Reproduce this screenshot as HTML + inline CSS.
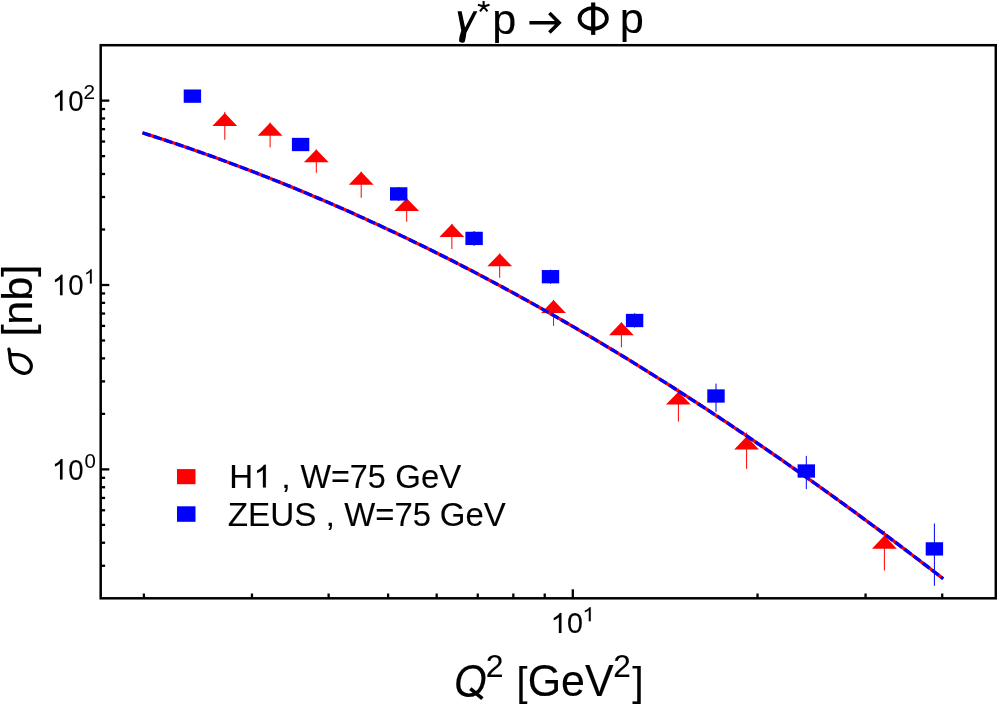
<!DOCTYPE html>
<html><head><meta charset="utf-8"><title>chart</title>
<style>html,body{margin:0;padding:0;background:#fff}body{width:997px;height:706px;overflow:hidden;font-family:"Liberation Sans",sans-serif}</style></head>
<body>
<svg width="997" height="706" viewBox="0 0 997 706" style="display:block;will-change:transform">
<rect width="997" height="706" fill="#fff"/>
<g stroke="#f00" stroke-width="1.0" fill="#f00">
<line x1="224.8" y1="111.9" x2="224.8" y2="139.8"/>
<path stroke="none" d="M224.8,113.1 L237.20,126.1 L212.40,126.1Z"/>
<line x1="270.1" y1="122.7" x2="270.1" y2="147.4"/>
<path stroke="none" d="M270.1,122.7 L282.50,135.7 L257.70,135.7Z"/>
<line x1="316.3" y1="149.4" x2="316.3" y2="172.75"/>
<path stroke="none" d="M316.3,149.4 L328.70,162.2 L303.90,162.2Z"/>
<line x1="361.2" y1="171.7" x2="361.2" y2="197.8"/>
<path stroke="none" d="M361.2,171.7 L373.60,184.8 L348.80,184.8Z"/>
<line x1="406.7" y1="198.3" x2="406.7" y2="221.8"/>
<path stroke="none" d="M406.7,198.3 L419.10,211.1 L394.30,211.1Z"/>
<line x1="451.85" y1="223.9" x2="451.85" y2="249.0"/>
<path stroke="none" d="M451.85,223.9 L464.25,236.9 L439.45,236.9Z"/>
<line x1="499.7" y1="253.5" x2="499.7" y2="277.8"/>
<path stroke="none" d="M499.7,253.5 L512.10,266.3 L487.30,266.3Z"/>
<line x1="553.55" y1="299.9" x2="553.55" y2="325.9"/>
<path stroke="none" d="M553.55,299.9 L565.95,312.9 L541.15,312.9Z"/>
<line x1="621.4" y1="322.3" x2="621.4" y2="347.4"/>
<path stroke="none" d="M621.4,322.3 L633.80,335.3 L609.00,335.3Z"/>
<line x1="678.4" y1="388.5" x2="678.4" y2="421.7"/>
<path stroke="none" d="M678.4,391.8 L690.80,404.6 L666.00,404.6Z"/>
<line x1="746.6" y1="432.6" x2="746.6" y2="468.9"/>
<path stroke="none" d="M746.6,436.6 L759.00,449.6 L734.20,449.6Z"/>
<line x1="884.4" y1="530.9" x2="884.4" y2="570.5"/>
<path stroke="none" d="M884.4,535.6 L896.80,548.65 L872.00,548.65Z"/>
</g>
<path d="M142.50,132.80 L146.50,134.08 L150.51,135.37 L154.51,136.67 L158.51,137.98 L162.52,139.30 L166.52,140.63 L170.52,141.97 L174.53,143.31 L178.53,144.67 L182.53,146.04 L186.54,147.41 L190.54,148.80 L194.55,150.20 L198.55,151.60 L202.55,153.02 L206.56,154.44 L210.56,155.88 L214.56,157.32 L218.57,158.78 L222.57,160.24 L226.57,161.72 L230.58,163.20 L234.58,164.70 L238.58,166.20 L242.59,167.72 L246.59,169.24 L250.59,170.77 L254.60,172.32 L258.60,173.87 L262.61,175.43 L266.61,177.01 L270.61,178.59 L274.62,180.18 L278.62,181.79 L282.62,183.40 L286.63,185.02 L290.63,186.65 L294.63,188.30 L298.64,189.95 L302.64,191.61 L306.64,193.28 L310.65,194.96 L314.65,196.66 L318.65,198.36 L322.66,200.07 L326.66,201.79 L330.66,203.52 L334.67,205.26 L338.67,207.01 L342.67,208.77 L346.68,210.54 L350.68,212.33 L354.69,214.12 L358.69,215.92 L362.69,217.73 L366.70,219.55 L370.70,221.38 L374.70,223.22 L378.71,225.07 L382.71,226.93 L386.71,228.80 L390.72,230.68 L394.72,232.57 L398.72,234.46 L402.73,236.37 L406.73,238.29 L410.73,240.22 L414.74,242.16 L418.74,244.11 L422.75,246.07 L426.75,248.03 L430.75,250.01 L434.76,252.00 L438.76,254.00 L442.76,256.00 L446.77,258.02 L450.77,260.05 L454.77,262.08 L458.78,264.13 L462.78,266.18 L466.78,268.25 L470.79,270.32 L474.79,272.41 L478.79,274.50 L482.80,276.61 L486.80,278.72 L490.80,280.85 L494.81,282.98 L498.81,285.12 L502.81,287.27 L506.82,289.44 L510.82,291.61 L514.83,293.79 L518.83,295.98 L522.83,298.18 L526.84,300.39 L530.84,302.61 L534.84,304.84 L538.85,307.08 L542.85,309.33 L546.85,311.59 L550.86,313.85 L554.86,316.13 L558.86,318.42 L562.87,320.71 L566.87,323.02 L570.87,325.33 L574.88,327.65 L578.88,329.99 L582.88,332.33 L586.89,334.68 L590.89,337.04 L594.90,339.41 L598.90,341.79 L602.90,344.18 L606.91,346.58 L610.91,348.99 L614.91,351.40 L618.92,353.83 L622.92,356.26 L626.92,358.71 L630.93,361.16 L634.93,363.63 L638.93,366.10 L642.94,368.58 L646.94,371.07 L650.94,373.57 L654.95,376.07 L658.95,378.59 L662.95,381.12 L666.96,383.65 L670.96,386.19 L674.97,388.75 L678.97,391.31 L682.97,393.88 L686.98,396.46 L690.98,399.05 L694.98,401.64 L698.99,404.25 L702.99,406.86 L706.99,409.49 L711.00,412.12 L715.00,414.76 L719.00,417.41 L723.01,420.07 L727.01,422.73 L731.01,425.41 L735.02,428.09 L739.02,430.78 L743.02,433.48 L747.03,436.19 L751.03,438.91 L755.04,441.64 L759.04,444.37 L763.04,447.11 L767.05,449.86 L771.05,452.62 L775.05,455.39 L779.06,458.17 L783.06,460.95 L787.06,463.74 L791.07,466.54 L795.07,469.35 L799.07,472.17 L803.08,474.99 L807.08,477.83 L811.08,480.67 L815.09,483.52 L819.09,486.37 L823.10,489.24 L827.10,492.11 L831.10,494.99 L835.11,497.88 L839.11,500.77 L843.11,503.68 L847.12,506.59 L851.12,509.51 L855.12,512.44 L859.13,515.37 L863.13,518.31 L867.13,521.26 L871.14,524.22 L875.14,527.18 L879.14,530.16 L883.15,533.14 L887.15,536.12 L891.15,539.12 L895.16,542.12 L899.16,545.13 L903.16,548.14 L907.17,551.17 L911.17,554.20 L915.18,557.24 L919.18,560.28 L923.18,563.33 L927.19,566.39 L931.19,569.46 L935.19,572.53 L939.20,575.61 L943.20,578.70" fill="none" stroke="#f00" stroke-width="3.3"/>
<g stroke="#00f" stroke-width="1.0" fill="#00f">
<rect stroke="none" x="183.70" y="89.50" width="17.4" height="13.3"/>
<rect stroke="none" x="291.90" y="137.85" width="17.4" height="13.3"/>
<line x1="398.7" y1="187.0" x2="398.7" y2="200.9"/>
<rect stroke="none" x="390.00" y="187.25" width="17.4" height="13.3"/>
<line x1="474.1" y1="231.0" x2="474.1" y2="245.8"/>
<rect stroke="none" x="465.40" y="231.75" width="17.4" height="13.3"/>
<line x1="550.5" y1="269.7" x2="550.5" y2="283.8"/>
<rect stroke="none" x="541.80" y="270.05" width="17.4" height="13.3"/>
<line x1="634.6" y1="313.3" x2="634.6" y2="327.6"/>
<rect stroke="none" x="625.90" y="313.85" width="17.4" height="13.3"/>
<line x1="716.0" y1="383.6" x2="716.0" y2="411.8"/>
<rect stroke="none" x="707.30" y="389.35" width="17.4" height="13.3"/>
<line x1="806.3" y1="455.9" x2="806.3" y2="489.1"/>
<rect stroke="none" x="797.60" y="464.35" width="17.4" height="13.3"/>
<line x1="934.4" y1="523.5" x2="934.4" y2="585.8"/>
<rect stroke="none" x="925.70" y="542.25" width="17.4" height="13.3"/>
</g>
<path d="M142.50,132.80 L146.50,134.08 L150.51,135.37 L154.51,136.67 L158.51,137.98 L162.52,139.30 L166.52,140.63 L170.52,141.97 L174.53,143.31 L178.53,144.67 L182.53,146.04 L186.54,147.41 L190.54,148.80 L194.55,150.20 L198.55,151.60 L202.55,153.02 L206.56,154.44 L210.56,155.88 L214.56,157.32 L218.57,158.78 L222.57,160.24 L226.57,161.72 L230.58,163.20 L234.58,164.70 L238.58,166.20 L242.59,167.72 L246.59,169.24 L250.59,170.77 L254.60,172.32 L258.60,173.87 L262.61,175.43 L266.61,177.01 L270.61,178.59 L274.62,180.18 L278.62,181.79 L282.62,183.40 L286.63,185.02 L290.63,186.65 L294.63,188.30 L298.64,189.95 L302.64,191.61 L306.64,193.28 L310.65,194.96 L314.65,196.66 L318.65,198.36 L322.66,200.07 L326.66,201.79 L330.66,203.52 L334.67,205.26 L338.67,207.01 L342.67,208.77 L346.68,210.54 L350.68,212.33 L354.69,214.12 L358.69,215.92 L362.69,217.73 L366.70,219.55 L370.70,221.38 L374.70,223.22 L378.71,225.07 L382.71,226.93 L386.71,228.80 L390.72,230.68 L394.72,232.57 L398.72,234.46 L402.73,236.37 L406.73,238.29 L410.73,240.22 L414.74,242.16 L418.74,244.11 L422.75,246.07 L426.75,248.03 L430.75,250.01 L434.76,252.00 L438.76,254.00 L442.76,256.00 L446.77,258.02 L450.77,260.05 L454.77,262.08 L458.78,264.13 L462.78,266.18 L466.78,268.25 L470.79,270.32 L474.79,272.41 L478.79,274.50 L482.80,276.61 L486.80,278.72 L490.80,280.85 L494.81,282.98 L498.81,285.12 L502.81,287.27 L506.82,289.44 L510.82,291.61 L514.83,293.79 L518.83,295.98 L522.83,298.18 L526.84,300.39 L530.84,302.61 L534.84,304.84 L538.85,307.08 L542.85,309.33 L546.85,311.59 L550.86,313.85 L554.86,316.13 L558.86,318.42 L562.87,320.71 L566.87,323.02 L570.87,325.33 L574.88,327.65 L578.88,329.99 L582.88,332.33 L586.89,334.68 L590.89,337.04 L594.90,339.41 L598.90,341.79 L602.90,344.18 L606.91,346.58 L610.91,348.99 L614.91,351.40 L618.92,353.83 L622.92,356.26 L626.92,358.71 L630.93,361.16 L634.93,363.63 L638.93,366.10 L642.94,368.58 L646.94,371.07 L650.94,373.57 L654.95,376.07 L658.95,378.59 L662.95,381.12 L666.96,383.65 L670.96,386.19 L674.97,388.75 L678.97,391.31 L682.97,393.88 L686.98,396.46 L690.98,399.05 L694.98,401.64 L698.99,404.25 L702.99,406.86 L706.99,409.49 L711.00,412.12 L715.00,414.76 L719.00,417.41 L723.01,420.07 L727.01,422.73 L731.01,425.41 L735.02,428.09 L739.02,430.78 L743.02,433.48 L747.03,436.19 L751.03,438.91 L755.04,441.64 L759.04,444.37 L763.04,447.11 L767.05,449.86 L771.05,452.62 L775.05,455.39 L779.06,458.17 L783.06,460.95 L787.06,463.74 L791.07,466.54 L795.07,469.35 L799.07,472.17 L803.08,474.99 L807.08,477.83 L811.08,480.67 L815.09,483.52 L819.09,486.37 L823.10,489.24 L827.10,492.11 L831.10,494.99 L835.11,497.88 L839.11,500.77 L843.11,503.68 L847.12,506.59 L851.12,509.51 L855.12,512.44 L859.13,515.37 L863.13,518.31 L867.13,521.26 L871.14,524.22 L875.14,527.18 L879.14,530.16 L883.15,533.14 L887.15,536.12 L891.15,539.12 L895.16,542.12 L899.16,545.13 L903.16,548.14 L907.17,551.17 L911.17,554.20 L915.18,557.24 L919.18,560.28 L923.18,563.33 L927.19,566.39 L931.19,569.46 L935.19,572.53 L939.20,575.61 L943.20,578.70" fill="none" stroke="#00f" stroke-width="3.3" stroke-dasharray="8.56 2.92"/>
<rect x="100.7" y="45.2" width="895.0999999999999" height="553.0999999999999" fill="none" stroke="#000" stroke-width="2.5"/>
<g stroke="#000" stroke-width="2.3">
<line x1="100.7" y1="565.77" x2="105.10000000000001" y2="565.77"/>
<line x1="100.7" y1="542.74" x2="105.10000000000001" y2="542.74"/>
<line x1="100.7" y1="524.87" x2="105.10000000000001" y2="524.87"/>
<line x1="100.7" y1="510.27" x2="105.10000000000001" y2="510.27"/>
<line x1="100.7" y1="497.93" x2="105.10000000000001" y2="497.93"/>
<line x1="100.7" y1="487.24" x2="105.10000000000001" y2="487.24"/>
<line x1="100.7" y1="477.81" x2="105.10000000000001" y2="477.81"/>
<line x1="100.7" y1="469.37" x2="109.3" y2="469.37"/>
<line x1="100.7" y1="413.87" x2="105.10000000000001" y2="413.87"/>
<line x1="100.7" y1="381.40" x2="105.10000000000001" y2="381.40"/>
<line x1="100.7" y1="358.37" x2="105.10000000000001" y2="358.37"/>
<line x1="100.7" y1="340.50" x2="105.10000000000001" y2="340.50"/>
<line x1="100.7" y1="325.90" x2="105.10000000000001" y2="325.90"/>
<line x1="100.7" y1="313.56" x2="105.10000000000001" y2="313.56"/>
<line x1="100.7" y1="302.87" x2="105.10000000000001" y2="302.87"/>
<line x1="100.7" y1="293.44" x2="105.10000000000001" y2="293.44"/>
<line x1="100.7" y1="285.00" x2="109.3" y2="285.00"/>
<line x1="100.7" y1="229.50" x2="105.10000000000001" y2="229.50"/>
<line x1="100.7" y1="197.03" x2="105.10000000000001" y2="197.03"/>
<line x1="100.7" y1="174.00" x2="105.10000000000001" y2="174.00"/>
<line x1="100.7" y1="156.13" x2="105.10000000000001" y2="156.13"/>
<line x1="100.7" y1="141.53" x2="105.10000000000001" y2="141.53"/>
<line x1="100.7" y1="129.19" x2="105.10000000000001" y2="129.19"/>
<line x1="100.7" y1="118.50" x2="105.10000000000001" y2="118.50"/>
<line x1="100.7" y1="109.07" x2="105.10000000000001" y2="109.07"/>
<line x1="100.7" y1="100.63" x2="109.3" y2="100.63"/>
<line x1="143.91" y1="598.3" x2="143.91" y2="593.5"/>
<line x1="251.96" y1="598.3" x2="251.96" y2="593.5"/>
<line x1="328.62" y1="598.3" x2="328.62" y2="593.5"/>
<line x1="388.09" y1="598.3" x2="388.09" y2="593.5"/>
<line x1="436.67" y1="598.3" x2="436.67" y2="593.5"/>
<line x1="477.75" y1="598.3" x2="477.75" y2="593.5"/>
<line x1="513.34" y1="598.3" x2="513.34" y2="593.5"/>
<line x1="544.72" y1="598.3" x2="544.72" y2="593.5"/>
<line x1="572.80" y1="598.3" x2="572.80" y2="589.3"/>
<line x1="757.51" y1="598.3" x2="757.51" y2="593.5"/>
<line x1="865.56" y1="598.3" x2="865.56" y2="593.5"/>
<line x1="942.22" y1="598.3" x2="942.22" y2="593.5"/>
</g>
<g font-family="Liberation Sans, sans-serif" fill="#000" stroke="#000" stroke-width="0.12">
<path transform="translate(54.95,110.78) scale(0.014074,-0.013950) translate(-223,0)" vector-effect="non-scaling-stroke" d="M763 0H583V1147Q518 1085 412.5 1023T223 930V1104Q373 1174.5 485 1275T644 1466H763Z"/>
<text transform="translate(68.21,110.80) scale(0.6909,0.7363)" font-size="40">0</text>
<text transform="translate(83.41,99.08) scale(0.5205,0.5000)" font-size="40">2</text>
<path transform="translate(54.95,295.15) scale(0.014074,-0.013950) translate(-223,0)" vector-effect="non-scaling-stroke" d="M763 0H583V1147Q518 1085 412.5 1023T223 930V1104Q373 1174.5 485 1275T644 1466H763Z"/>
<text transform="translate(68.21,295.17) scale(0.6909,0.7363)" font-size="40">0</text>
<path transform="translate(86.25,283.55) scale(0.010185,-0.009754) translate(-223,0)" vector-effect="non-scaling-stroke" d="M763 0H583V1147Q518 1085 412.5 1023T223 930V1104Q373 1174.5 485 1275T644 1466H763Z"/>
<path transform="translate(54.95,479.52) scale(0.014074,-0.013950) translate(-223,0)" vector-effect="non-scaling-stroke" d="M763 0H583V1147Q518 1085 412.5 1023T223 930V1104Q373 1174.5 485 1275T644 1466H763Z"/>
<text transform="translate(68.21,479.54) scale(0.6909,0.7363)" font-size="40">0</text>
<text transform="translate(84.49,468.29) scale(0.5091,0.5133)" font-size="40">0</text>
<path transform="translate(553.75,632.95) scale(0.014259,-0.013643) translate(-223,0)" vector-effect="non-scaling-stroke" d="M763 0H583V1147Q518 1085 412.5 1023T223 930V1104Q373 1174.5 485 1275T644 1466H763Z"/>
<text transform="translate(566.97,632.97) scale(0.7169,0.7221)" font-size="40">0</text>
<path transform="translate(584.85,621.15) scale(0.010926,-0.009550) translate(-223,0)" vector-effect="non-scaling-stroke" d="M763 0H583V1147Q518 1085 412.5 1023T223 930V1104Q373 1174.5 485 1275T644 1466H763Z"/>
<text transform="translate(492.36,33.65) scale(1.0778,1.0420)" font-size="40">p</text>
<text transform="translate(619.84,33.45) scale(1.0833,1.0420)" font-size="40">p</text>
<text transform="translate(453.99,696.77) scale(1.0486,1.1327)" font-size="40" font-style="italic">O</text>
<text transform="translate(485.65,676.95) scale(0.8000,0.7786)" font-size="40">2</text>
<text transform="translate(516.43,696.07) scale(0.9875,1.0282)" font-size="40">[</text>
<text transform="translate(527.70,696.47) scale(1.0727,1.1115)" font-size="40">GeV</text>
<text transform="translate(613.27,676.95) scale(0.7890,0.7786)" font-size="40">2</text>
<text transform="translate(632.19,696.07) scale(1.0250,1.0282)" font-size="40">]</text>
<text transform="rotate(-90) translate(-336.61,31.85) scale(1.0776,1.0550)" font-size="40">[nb]</text>
<text transform="translate(229.16,487.55) scale(0.8270,0.8291)" font-size="40">H</text>
<path transform="translate(257.05,487.55) scale(0.016296,-0.015553) translate(-223,0)" vector-effect="non-scaling-stroke" d="M763 0H583V1147Q518 1085 412.5 1023T223 930V1104Q373 1174.5 485 1275T644 1466H763Z"/>
<text transform="translate(281.15,488.07) scale(0.8533,0.7351)" font-size="40">,</text>
<text transform="translate(300.45,487.64) scale(0.8087,0.8324)" font-size="40">W=75</text>
<text transform="translate(395.30,487.74) scale(0.8244,0.8354)" font-size="40">GeV</text>
<text transform="translate(227.71,526.04) scale(0.8309,0.8460)" font-size="40">ZEUS</text>
<text transform="translate(325.55,526.37) scale(0.8533,0.7351)" font-size="40">,</text>
<text transform="translate(344.34,525.94) scale(0.8212,0.8324)" font-size="40">W=75</text>
<text transform="translate(439.80,526.04) scale(0.8244,0.8389)" font-size="40">GeV</text>
</g>
<path d="M457.6,11.2 L461.6,11.2 L465.1,27.6 L473.5,11.2 L477.4,11.2 L466.3,33.0 C466.1,36 465.4,40 464.7,41.7 C463.9,43.0 460.3,43.0 459.3,41.5 C458.7,39.5 459.8,35 461.3,30.4 Z" fill="#000"/>
<path d="M483.7,6.6L483.6,1.0 M483.7,6.6L477.9,4.7 M483.7,6.6L489.5,4.7 M483.7,6.6L480.0,11.3 M483.7,6.6L487.4,11.3" stroke="#000" stroke-width="2.1" fill="none"/>
<path d="M529.4,22.75H559 M549.4,13.1L559.15,22.85L549.4,32.6" stroke="#000" stroke-width="3.6" fill="none" stroke-linejoin="miter"/>
<ellipse cx="593.2" cy="18.4" rx="13.7" ry="10.4" fill="none" stroke="#000" stroke-width="3.7"/>
<rect x="591.1" y="2.5" width="4.2" height="32.4" fill="#000"/>
<path d="M8.9,349.2 C9.6,352 10,356 10.3,360 C10.8,366 14.5,370 19.1,371.9 C23,373.6 27.2,373.9 29.6,371.2 C32,368.3 31.8,364 29.6,361 C27,357.5 22.5,355 17.8,354.7 L10.4,354.6" stroke="#000" stroke-width="3.3" fill="none" stroke-linecap="round" stroke-linejoin="round"/>
<path d="M470.3,688.6L482.4,698.6" stroke="#000" stroke-width="3.7" fill="none"/>
<rect x="177.0" y="469.1" width="18.5" height="15.1" fill="#f00"/>
<rect x="177.0" y="506.3" width="18.5" height="15.5" fill="#00f"/>
</svg>
</body></html>
